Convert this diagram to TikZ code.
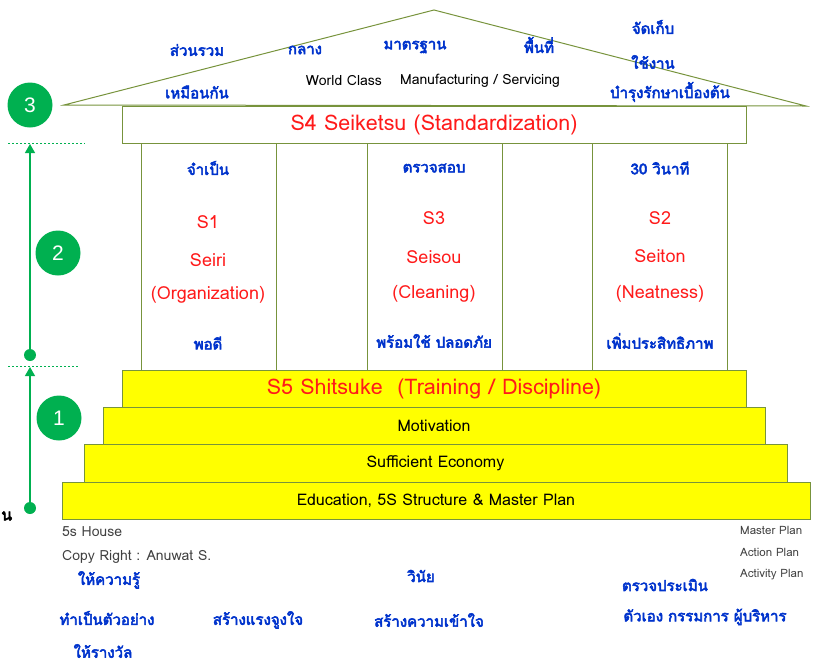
\documentclass[tikz,border=0pt]{standalone}
\usepackage{fontspec}
\setmainfont{Loma}
\newfontfamily\thaifont[Script=Thai,FakeBold=3.5]{Loma}
\newfontfamily\numfont{Liberation Sans}
\usetikzlibrary{arrows.meta,positioning}
\definecolor{hgreen}{HTML}{77933C}
\definecolor{hmint}{HTML}{00B050}
\definecolor{hyellow}{HTML}{FFFF00}
\definecolor{hblue}{HTML}{0033CC}
\definecolor{hred}{HTML}{FF1A1A}
\definecolor{hgrey}{HTML}{404040}

\begin{document}
\begin{tikzpicture}[x=1pt,y=-1pt,
  font=\fontsize{16}{18}\selectfont,
  tier/.style={draw=hgreen,fill=hyellow,line width=0.9pt,inner sep=0pt},
  pillar/.style={draw=hgreen,fill=white,line width=0.9pt,inner sep=0pt,
                 minimum width=135,minimum height=227},
  th/.style={font=\thaifont\fontsize{15}{17}\selectfont,text=hblue,inner sep=0pt},
  sname/.style={font=\fontsize{18}{20}\selectfont,text=hred,inner sep=0pt},
  big/.style={font=\fontsize{21.5}{23}\selectfont,text=hred},
  lat/.style={font=\fontsize{14}{16}\selectfont,inner sep=0pt},
  note/.style={font=\fontsize{14}{16}\selectfont,text=hgrey,inner sep=0pt,anchor=west},
  plan/.style={note,font=\fontsize{11.5}{13}\selectfont},
  num/.style={circle,fill=hmint,text=white,minimum size=45,inner sep=0pt,
              font=\numfont\fontsize{21}{21}\selectfont},
  dot/.style={circle,fill=hmint,minimum size=12,inner sep=0pt},
  dots/.style={draw=hmint,dash pattern=on 2pt off 2pt,line width=0.8pt},
  up/.style={draw=hmint,line width=1.2pt,-{Triangle[length=9pt,width=10pt]}}]

  \useasboundingbox (0,0) rectangle (814,665);
  \clip (0,0) rectangle (814,665);

  % roof
  \coordinate (rl) at (64,105);
  \coordinate (ra) at (434,10);
  \coordinate (rr) at (806,106);
  \draw[hgreen,line width=1pt] (rl) -- (ra) -- (rr) -- cycle;

  \node[th] (r1) at (197,50) {ส่วนรวม};
  \node[th] (r2) at (197,92) {เหมือนกัน};
  \node[th] (r3) at (305,50) {กลาง};
  \node[th] (r4) at (415,47) {มาตรฐาน};
  \node[th] (r5) at (539,45) {พื้นที่};
  \node[th] (r6) at (653,27) {จัดเก็บ};
  \node[th] (r7) at (653,62) {ใช้งาน};
  \node[th] (r8) at (670,92) {บำรุงรักษาเบื้องต้น};
  \node[lat] (wc) at (344,81) {World Class};
  \node[lat] (ms) at (480,81) {Manufacturing / Servicing};

  % pillars
  \node[pillar] (p1) at (208.5,256.5) {};
  \node[pillar] (p3) at (434.5,256.5) {};
  \node[pillar] (p2) at (659.5,256.5) {};

  \node[tier,fill=white,minimum width=624,minimum height=37,big] (s4) at (434,124.5)
       {S4 Seiketsu (Standardization)};

  \node[th] (a1) at (208,168) {จำเป็น};
  \node[sname] (a2) at (208,222) {S1};
  \node[sname] (a3) at (208,260) {Seiri};
  \node[sname] (a4) at (208,295) {(Organization)};
  \node[th] (a5) at (208,343) {พอดี};

  \node[th] (c1) at (434,168) {ตรวจสอบ};
  \node[sname] (c2) at (434,218) {S3};
  \node[sname] (c3) at (434,257) {Seisou};
  \node[sname] (c4) at (434,294) {(Cleaning)};
  \node[th] (c5) at (434,341) {พร้อมใช้ ปลอดภัย};

  \node[th] (b1) at (660,168) {30 วินาที};
  \node[sname] (b2) at (660,218) {S2};
  \node[sname] (b3) at (660,256) {Seiton};
  \node[sname] (b4) at (660,294) {(Neatness)};
  \node[th] (b5) at (660,341) {เพิ่มประสิทธิภาพ};

  % base tiers
  \node[tier,minimum width=624,minimum height=37,big] (s5) at (434,388.5)
       {S5 Shitsuke\ \ (Training / Discipline)};
  \node[tier,minimum width=662,minimum height=37] (mot) at (434,425.5) {Motivation};
  \node[tier,minimum width=703,minimum height=38] (eco) at (435.5,463) {Sufficient Economy};
  \node[tier,minimum width=748,minimum height=37] (edu) at (436,500.5)
       {Education, 5S Structure \& Master Plan};

  % levels
  \node[num] (n3) at (30,105) {3};
  \node[num] (n2) at (58,253) {2};
  \node[num] (n1) at (59,418) {1};
  \coordinate (d3l) at (8,143);  \coordinate (d3r) at (85,143);
  \coordinate (d2l) at (8,366);  \coordinate (d2r) at (78,366);
  \draw[dots] (d3l) -- (d3r);
  \draw[dots] (d2l) -- (d2r);
  \node[dot] (k2) at (30,355) {};
  \node[dot] (k1) at (30,508) {};
  \coordinate (t2) at (30,144);
  \coordinate (t1) at (30,367);
  \draw[up] (k2) -- (t2);
  \draw[up] (k1) -- (t1);
  \node[font=\thaifont\fontsize{16}{18}\selectfont,inner sep=0pt,anchor=west]
       (cut) at (1,516) {น};

  % notes
  \node[note] (h1) at (62,532) {5s House};
  \node[note] (h2) at (62,557) {Copy Right : Anuwat S.};
  \node[plan] (m1) at (740,530) {Master Plan};
  \node[plan] (m2) at (740,552) {Action Plan};
  \node[plan] (m3) at (740,575) {Activity Plan};

  \node[th] (u1) at (109,580) {ให้ความรู้};
  \node[th] (u2) at (107,618) {ทำเป็นตัวอย่าง};
  \node[th] (u3) at (103,651) {ให้รางวัล};
  \node[th] (u4) at (258,620) {สร้างแรงจูงใจ};
  \node[th] (u5) at (421,576) {วินัย};
  \node[th] (u6) at (429,620) {สร้างความเข้าใจ};
  \node[th] (u7) at (665,585) {ตรวจประเมิน};
  \node[th] (u8) at (705,617) {ตัวเอง กรรมการ ผู้บริหาร};
\end{tikzpicture}
\end{document}
